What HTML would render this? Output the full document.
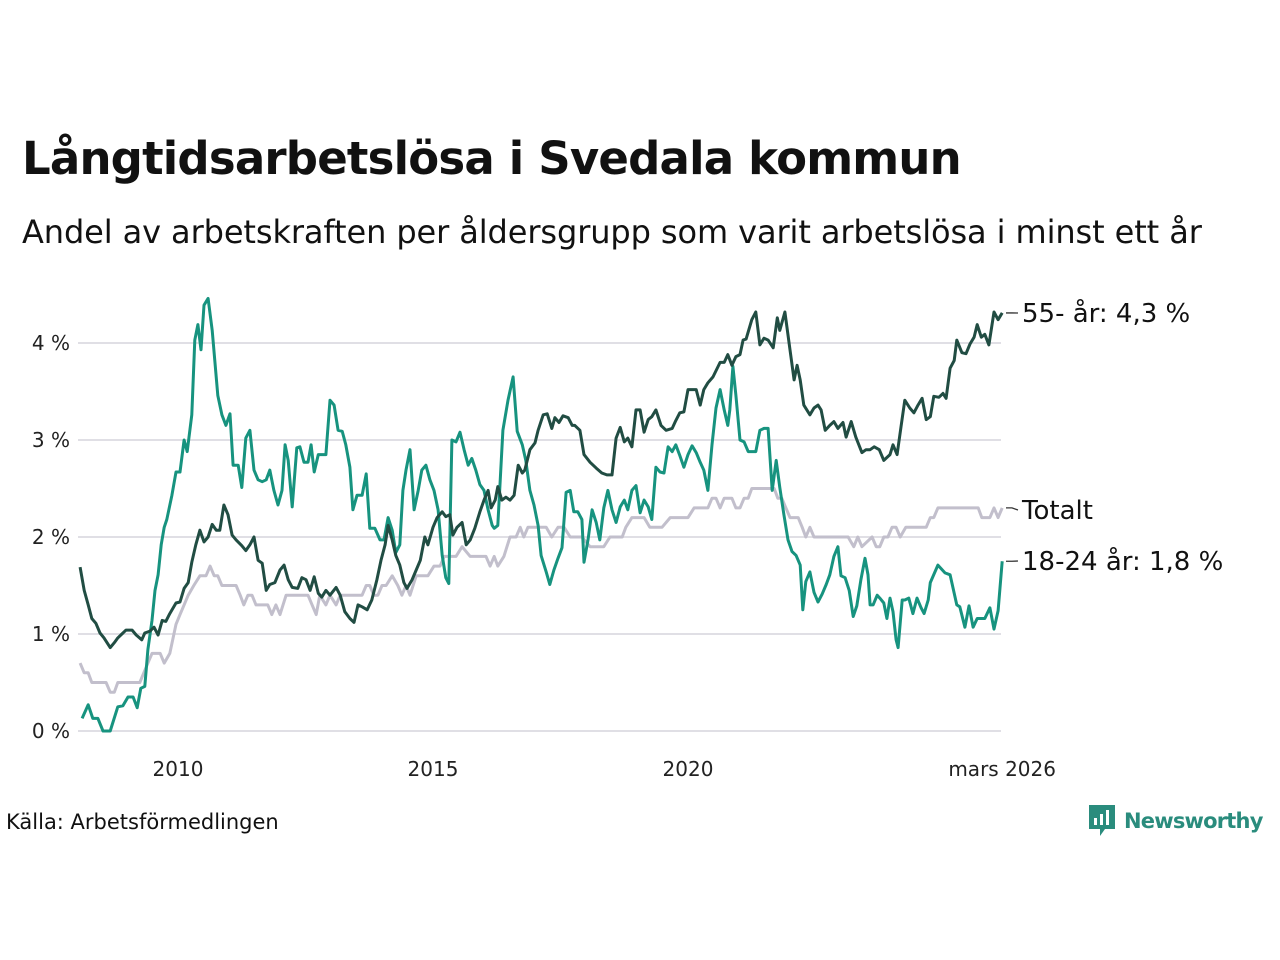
<!DOCTYPE html>
<html><head><meta charset="utf-8">
<style>
html,body{margin:0;padding:0;background:#fff;}
body{width:1280px;height:960px;position:relative;overflow:hidden;font-family:"Liberation Sans","DejaVu Sans",sans-serif;color:#111;}
#title{position:absolute;left:22px;top:132px;font-size:45px;font-weight:bold;margin:0;font-family:"DejaVu Sans","Liberation Sans",sans-serif;letter-spacing:-0.8px;}
#subtitle{position:absolute;left:22px;top:213px;font-size:32px;font-family:"DejaVu Sans","Liberation Sans",sans-serif;letter-spacing:-0.1px;}
#source{position:absolute;left:6px;top:810px;font-size:21px;font-family:"DejaVu Sans","Liberation Sans",sans-serif;}
#logo{position:absolute;left:1088px;top:804px;display:flex;align-items:center;}
#logo span{font-size:21px;font-weight:bold;color:#2a8c7d;margin-left:8px;font-family:"DejaVu Sans","Liberation Sans",sans-serif;letter-spacing:-0.8px;}
svg text{font-family:"DejaVu Sans","Liberation Sans",sans-serif;}
</style></head><body>
<h1 id="title">Långtidsarbetslösa i Svedala kommun</h1>
<div id="subtitle">Andel av arbetskraften per åldersgrupp som varit arbetslösa i minst ett år</div>
<svg id="chart" width="1280" height="960" style="position:absolute;left:0;top:0"></svg>
<div id="source">Källa: Arbetsförmedlingen</div>
<div id="logo">
<svg width="28" height="34" viewBox="0 0 28 34"><path d="M1 1h26v24H17l-5 7v-7H1z" fill="#2a8c7d"/><rect x="6" y="14" width="3" height="7" fill="#fff"/><rect x="12" y="10" width="3" height="11" fill="#fff"/><rect x="18" y="6" width="3" height="15" fill="#fff"/></svg>
<span>Newsworthy</span></div>
<script>
const yTicks=[0,1,2,3,4];
const yTickLabels=["0 %","1 %","2 %","3 %","4 %"];
const xTicks=[2010,2015,2020,2026.16];
const xTickLabels=["2010","2015","2020","mars 2026"];
const youngDates=[2008.12,2008.24,2008.33,2008.43,2008.53,2008.67,2008.82,2008.92,2009.02,2009.12,2009.20,2009.27,2009.35,2009.41,2009.49,2009.55,2009.61,2009.67,2009.73,2009.78,2009.88,2009.96,2010.04,2010.12,2010.18,2010.27,2010.33,2010.39,2010.45,2010.51,2010.59,2010.67,2010.78,2010.86,2010.94,2011.02,2011.08,2011.18,2011.25,2011.33,2011.41,2011.49,2011.57,2011.65,2011.73,2011.80,2011.88,2011.96,2012.04,2012.10,2012.16,2012.24,2012.33,2012.39,2012.47,2012.55,2012.61,2012.67,2012.75,2012.90,2012.98,2013.06,2013.14,2013.22,2013.29,2013.37,2013.43,2013.51,2013.61,2013.69,2013.76,2013.86,2013.96,2014.04,2014.12,2014.20,2014.27,2014.35,2014.41,2014.47,2014.55,2014.63,2014.71,2014.78,2014.86,2014.94,2015.02,2015.10,2015.18,2015.25,2015.31,2015.37,2015.45,2015.53,2015.61,2015.69,2015.76,2015.84,2015.92,2016.00,2016.08,2016.16,2016.20,2016.27,2016.37,2016.47,2016.57,2016.65,2016.75,2016.82,2016.90,2016.98,2017.06,2017.12,2017.22,2017.29,2017.37,2017.45,2017.53,2017.61,2017.69,2017.76,2017.84,2017.92,2017.96,2018.04,2018.12,2018.20,2018.27,2018.35,2018.43,2018.51,2018.59,2018.67,2018.75,2018.82,2018.90,2018.98,2019.06,2019.14,2019.22,2019.29,2019.37,2019.45,2019.53,2019.61,2019.69,2019.76,2019.84,2019.92,2020.00,2020.08,2020.16,2020.24,2020.31,2020.39,2020.47,2020.55,2020.63,2020.71,2020.78,2020.82,2020.88,2020.94,2021.02,2021.10,2021.18,2021.33,2021.41,2021.49,2021.57,2021.65,2021.73,2021.80,2021.88,2021.96,2022.04,2022.12,2022.20,2022.25,2022.31,2022.39,2022.47,2022.55,2022.63,2022.71,2022.78,2022.86,2022.94,2023.00,2023.08,2023.16,2023.24,2023.31,2023.39,2023.47,2023.53,2023.57,2023.63,2023.71,2023.76,2023.84,2023.90,2023.96,2024.02,2024.08,2024.12,2024.20,2024.25,2024.33,2024.41,2024.49,2024.57,2024.63,2024.71,2024.75,2024.90,2025.04,2025.14,2025.27,2025.33,2025.43,2025.51,2025.59,2025.67,2025.82,2025.92,2026.00,2026.08,2026.16];
const youngValues=[0.13,0.27,0.13,0.13,0,0,0.25,0.26,0.35,0.35,0.24,0.44,0.46,0.84,1.14,1.45,1.61,1.92,2.10,2.18,2.43,2.67,2.67,3.00,2.88,3.26,4.03,4.19,3.93,4.39,4.46,4.13,3.46,3.26,3.15,3.27,2.74,2.74,2.51,3.02,3.10,2.69,2.59,2.57,2.59,2.69,2.48,2.33,2.48,2.95,2.79,2.31,2.92,2.93,2.77,2.77,2.95,2.67,2.85,2.85,3.41,3.36,3.10,3.09,2.95,2.72,2.28,2.43,2.43,2.65,2.09,2.09,1.97,1.97,2.20,2.07,1.84,1.92,2.48,2.69,2.90,2.28,2.48,2.69,2.74,2.59,2.48,2.28,1.81,1.58,1.52,3.00,2.98,3.08,2.90,2.74,2.81,2.69,2.54,2.48,2.28,2.12,2.09,2.12,3.10,3.41,3.65,3.09,2.95,2.79,2.48,2.33,2.12,1.81,1.64,1.51,1.66,1.78,1.89,2.46,2.48,2.26,2.26,2.18,1.74,1.97,2.28,2.15,1.97,2.30,2.48,2.28,2.15,2.31,2.38,2.28,2.48,2.53,2.25,2.38,2.31,2.18,2.72,2.67,2.66,2.93,2.88,2.95,2.84,2.72,2.85,2.94,2.87,2.77,2.69,2.48,2.95,3.33,3.52,3.31,3.15,3.31,3.76,3.46,3.00,2.98,2.88,2.88,3.10,3.12,3.12,2.48,2.79,2.51,2.23,1.97,1.85,1.81,1.71,1.25,1.54,1.64,1.43,1.33,1.41,1.51,1.61,1.80,1.90,1.60,1.58,1.45,1.18,1.29,1.56,1.78,1.61,1.30,1.30,1.40,1.37,1.32,1.16,1.37,1.23,0.94,0.86,1.35,1.35,1.37,1.21,1.37,1.27,1.21,1.35,1.53,1.71,1.63,1.61,1.30,1.28,1.07,1.29,1.07,1.16,1.16,1.27,1.05,1.24,1.75];
const olderDates=[2008.08,2008.16,2008.24,2008.31,2008.39,2008.47,2008.55,2008.67,2008.75,2008.82,2008.90,2008.98,2009.10,2009.18,2009.29,2009.35,2009.45,2009.53,2009.61,2009.69,2009.76,2009.84,2009.96,2010.04,2010.12,2010.20,2010.27,2010.35,2010.43,2010.51,2010.59,2010.67,2010.75,2010.82,2010.90,2010.98,2011.06,2011.14,2011.25,2011.33,2011.41,2011.49,2011.57,2011.65,2011.73,2011.80,2011.90,2012.00,2012.08,2012.16,2012.24,2012.35,2012.43,2012.51,2012.59,2012.67,2012.75,2012.82,2012.90,2012.98,2013.10,2013.18,2013.27,2013.37,2013.45,2013.53,2013.61,2013.71,2013.80,2013.90,2013.98,2014.06,2014.12,2014.20,2014.27,2014.35,2014.43,2014.49,2014.59,2014.67,2014.75,2014.84,2014.90,2015.00,2015.08,2015.18,2015.25,2015.33,2015.39,2015.47,2015.57,2015.65,2015.73,2015.82,2015.92,2016.00,2016.08,2016.14,2016.22,2016.27,2016.35,2016.43,2016.51,2016.59,2016.67,2016.75,2016.80,2016.90,2017.00,2017.06,2017.16,2017.24,2017.33,2017.39,2017.47,2017.55,2017.65,2017.73,2017.78,2017.88,2017.96,2018.08,2018.20,2018.31,2018.41,2018.51,2018.59,2018.67,2018.75,2018.82,2018.90,2018.98,2019.06,2019.14,2019.22,2019.29,2019.37,2019.47,2019.57,2019.69,2019.75,2019.84,2019.92,2020.00,2020.16,2020.24,2020.31,2020.39,2020.49,2020.63,2020.71,2020.78,2020.86,2020.94,2021.02,2021.08,2021.14,2021.25,2021.33,2021.41,2021.49,2021.57,2021.67,2021.75,2021.80,2021.90,2022.00,2022.08,2022.14,2022.20,2022.27,2022.39,2022.47,2022.55,2022.61,2022.69,2022.78,2022.86,2022.94,2023.04,2023.10,2023.20,2023.29,2023.41,2023.49,2023.57,2023.65,2023.75,2023.84,2023.96,2024.02,2024.10,2024.18,2024.25,2024.35,2024.43,2024.51,2024.59,2024.67,2024.75,2024.82,2024.92,2025.00,2025.06,2025.14,2025.22,2025.27,2025.37,2025.45,2025.53,2025.61,2025.67,2025.75,2025.82,2025.90,2026.00,2026.08,2026.16];
const olderValues=[1.69,1.45,1.30,1.16,1.11,1.01,0.96,0.86,0.91,0.96,1.00,1.04,1.04,0.99,0.94,1.01,1.03,1.07,0.99,1.14,1.13,1.21,1.32,1.33,1.47,1.53,1.74,1.92,2.07,1.95,2.00,2.13,2.07,2.07,2.33,2.23,2.02,1.97,1.91,1.86,1.92,2.00,1.76,1.73,1.45,1.51,1.53,1.66,1.71,1.56,1.48,1.47,1.58,1.56,1.45,1.59,1.42,1.38,1.45,1.40,1.48,1.40,1.23,1.16,1.12,1.30,1.28,1.25,1.35,1.56,1.76,1.92,2.12,1.97,1.81,1.71,1.53,1.47,1.56,1.66,1.76,2.00,1.92,2.10,2.20,2.26,2.21,2.23,2.02,2.10,2.15,1.92,1.97,2.09,2.26,2.38,2.48,2.30,2.38,2.52,2.38,2.41,2.38,2.43,2.74,2.66,2.69,2.90,2.97,3.10,3.26,3.27,3.12,3.23,3.18,3.25,3.23,3.15,3.15,3.10,2.85,2.77,2.71,2.66,2.64,2.64,3.02,3.13,2.98,3.02,2.93,3.31,3.31,3.08,3.21,3.24,3.31,3.15,3.10,3.12,3.19,3.28,3.29,3.52,3.52,3.36,3.52,3.59,3.65,3.80,3.80,3.88,3.77,3.86,3.88,4.03,4.04,4.24,4.32,3.98,4.05,4.03,3.95,4.26,4.13,4.32,3.93,3.62,3.77,3.62,3.36,3.26,3.33,3.36,3.31,3.10,3.15,3.19,3.12,3.18,3.03,3.19,3.03,2.87,2.90,2.90,2.93,2.90,2.79,2.85,2.95,2.85,3.15,3.41,3.33,3.28,3.36,3.43,3.21,3.24,3.45,3.44,3.48,3.43,3.74,3.82,4.03,3.90,3.89,3.99,4.06,4.19,4.06,4.09,3.98,4.32,4.24,4.31];
const totalDates=[2008.08,2008.16,2008.24,2008.31,2008.59,2008.67,2008.75,2008.82,2009.25,2009.33,2009.41,2009.49,2009.65,2009.73,2009.84,2009.96,2010.04,2010.12,2010.20,2010.31,2010.43,2010.55,2010.63,2010.71,2010.78,2010.86,2011.14,2011.22,2011.29,2011.37,2011.45,2011.53,2011.76,2011.84,2011.92,2012.00,2012.12,2012.55,2012.63,2012.71,2012.78,2012.90,2012.98,2013.10,2013.18,2013.49,2013.61,2013.69,2013.76,2013.84,2013.92,2014.00,2014.08,2014.20,2014.31,2014.39,2014.47,2014.55,2014.67,2014.75,2014.90,2015.02,2015.14,2015.22,2015.45,2015.57,2015.73,2016.04,2016.12,2016.20,2016.27,2016.39,2016.51,2016.63,2016.71,2016.78,2016.86,2017.22,2017.33,2017.45,2017.57,2017.69,2017.92,2018.08,2018.35,2018.47,2018.71,2018.78,2018.90,2019.14,2019.25,2019.49,2019.65,2020.00,2020.12,2020.39,2020.47,2020.55,2020.63,2020.71,2020.86,2020.94,2021.02,2021.10,2021.18,2021.25,2021.61,2021.69,2021.76,2021.84,2021.92,2022.00,2022.16,2022.24,2022.31,2022.39,2022.47,2023.14,2023.25,2023.33,2023.41,2023.61,2023.69,2023.76,2023.84,2023.92,2024.00,2024.08,2024.16,2024.27,2024.67,2024.75,2024.82,2024.90,2025.69,2025.76,2025.92,2026.00,2026.08,2026.16];
const totalValues=[0.7,0.6,0.6,0.5,0.5,0.4,0.4,0.5,0.5,0.6,0.7,0.8,0.8,0.7,0.8,1.1,1.2,1.3,1.4,1.5,1.6,1.6,1.7,1.6,1.6,1.5,1.5,1.4,1.3,1.4,1.4,1.3,1.3,1.2,1.3,1.2,1.4,1.4,1.3,1.2,1.4,1.3,1.4,1.3,1.4,1.4,1.4,1.5,1.5,1.4,1.4,1.5,1.5,1.6,1.5,1.4,1.5,1.4,1.6,1.6,1.6,1.7,1.7,1.8,1.8,1.9,1.8,1.8,1.7,1.8,1.7,1.8,2.0,2.0,2.1,2.0,2.1,2.1,2.0,2.1,2.1,2.0,2.0,1.9,1.9,2.0,2.0,2.1,2.2,2.2,2.1,2.1,2.2,2.2,2.3,2.3,2.4,2.4,2.3,2.4,2.4,2.3,2.3,2.4,2.4,2.5,2.5,2.5,2.4,2.4,2.3,2.2,2.2,2.1,2.0,2.1,2.0,2.0,1.9,2.0,1.9,2.0,1.9,1.9,2.0,2.0,2.1,2.1,2.0,2.1,2.1,2.2,2.2,2.3,2.3,2.2,2.2,2.3,2.2,2.3];
const seriesNames=["55- år","Totalt","18-24 år"];
const seriesLabels=["55- år: 4,3 %","Totalt","18-24 år: 1,8 %"];

const NS="http://www.w3.org/2000/svg";
const svg=document.getElementById('chart');
const X0=78,X1=1001;
function xs(yr){return 178+(yr-2010)*51;}
function ys(v){return 731-v*97;}
function mk(tag,attrs){const e=document.createElementNS(NS,tag);for(const k in attrs)e.setAttribute(k,attrs[k]);svg.appendChild(e);return e;}

yTicks.forEach((t,i)=>{
  const g=mk('line',{x1:X0,x2:X1,y1:ys(t),y2:ys(t),stroke:'#e0dfe5','stroke-width':2});
  
  
  const tx=mk('text',{x:70,y:ys(t)+7,'text-anchor':'end','font-size':20,fill:'#222'});
  tx.textContent=yTickLabels[i];
  
  
});
xTicks.forEach((t,i)=>{
  const tx=mk('text',{x:xs(t),y:776,'text-anchor':'middle','font-size':20,fill:'#222'});
  tx.textContent=xTickLabels[i];
  
  
});
function line(dates,vals,color,name){
  const d=dates.map((t,i)=>(i?'L':'M')+xs(t).toFixed(1)+','+ys(vals[i]).toFixed(1)).join('');
  const p=mk('path',{d:d,fill:'none',stroke:color,'stroke-width':3,'stroke-linejoin':'round'});
  
  
}
line(totalDates,totalValues,'#c2bfcc','line-totalt');
line(youngDates,youngValues,'#17937f','line-18-24');
line(olderDates,olderValues,'#214d43','line-55');
const ends=[[olderValues[olderValues.length-1],313],[totalValues[totalValues.length-1],510],[youngValues[youngValues.length-1],561]];
ends.forEach((e,i)=>{
  const y0=ys(e[0]);
  const c=mk('path',{d:`M1006,${y0}L1012,${y0}L1018,${e[1]}`,fill:'none',stroke:'#333','stroke-width':1.3});
  
  
  const t=mk('text',{x:1022,y:e[1]+9,'font-size':26,fill:'#111'});
  t.textContent=seriesLabels[i];
  
  
});
</script>
</body></html>
